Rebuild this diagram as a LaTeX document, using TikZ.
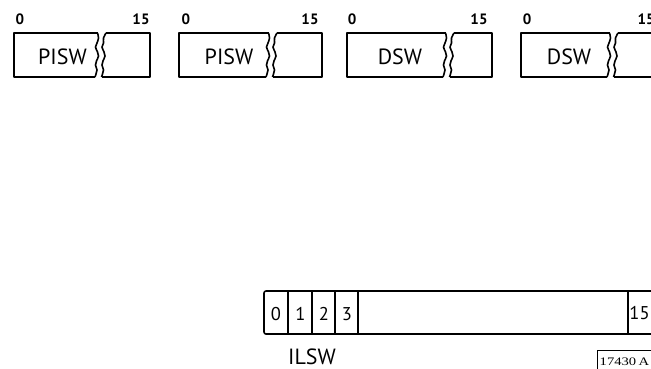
\documentclass[tikz,border=0pt]{standalone}
\usepackage{fontspec}
\setmainfont{PT Sans}
\newfontfamily\sernum{Liberation Serif}
\begin{document}
\begin{tikzpicture}[x=1pt,y=-1pt,
  reg/.style={line width=1.6pt,line join=round},
  regname/.style={inner sep=0pt,anchor=base,text depth=0pt,font=\fontsize{22}{22}\selectfont},
  bitnum/.style={inner sep=0pt,anchor=base,font=\bfseries\fontsize{15}{15}\selectfont},
  cellnum/.style={inner sep=0pt,anchor=base,font=\fontsize{18.5}{18.5}\selectfont},
  figno/.style={inner sep=0pt,anchor=base west,text depth=0pt,font=\sernum\fontsize{11.5}{11.5}\selectfont}]
\useasboundingbox (0,0) rectangle (651,368);
\clip (0,0) rectangle (651,368);
% top row: registers with a break
\foreach \L/\B/\R/\txt/\tx/\za/\zb/\n in {14/97/150/PISW/62.5/20/141/a,
    179/268/322/PISW/229/186/310/b,
    347/445/492/DSW/400/352/479/c,
    521/609/700/DSW/569/527/646/d}{
  \draw[reg] ({\B+0.5},33) -- (\L,33) -- (\L,77) -- ({\B-2},77);
  \draw[reg] plot[smooth,tension=0.6] coordinates {({\B-2},77) ({\B-1},74) ({\B},70) ({\B-1.5},65) ({\B-0.5},61) ({\B+1.5},56) ({\B+0.5},52) ({\B-1.5},47) ({\B},43) ({\B+1.5},38) ({\B+0.5},33)};
  \draw[reg] plot[smooth,tension=0.6] coordinates {({\B+4.5},77) ({\B+5.5},74) ({\B+6.5},70) ({\B+5},65) ({\B+6},61) ({\B+8},56) ({\B+7},52) ({\B+5},47) ({\B+6.5},43) ({\B+6.5},38) ({\B+9},33)};
  \draw[reg] ({\B+9},33) -- (\R,33) -- (\R,77) -- ({\B+4.5},77);
  \node[regname] (name\n) at (\tx,64) {\txt};
  \node[bitnum] (lo\n) at (\za,24) {0};
  \node[bitnum] (hi\n) at (\zb,24) {15};
}
% ILSW register
\draw[reg,rounded corners=2pt] (660,291) -- (264,291) -- (264,334) -- (660,334);
\foreach \x in {288,312,335,358,628}
  \draw[reg] (\x,291) -- (\x,334);
\node[cellnum] (c0) at (276,320) {0};
\node[cellnum] (c1) at (300.5,320) {1};
\node[cellnum] (c2) at (324,320) {2};
\node[cellnum] (c3) at (347,320) {3};
\node[cellnum] (c15) at (639.5,319) {15};
\node[regname] (ilsw) at (312,364) {ILSW};
% figure number
\draw[line width=0.8pt] (660,350) -- (597,350) -- (597,370);
\node[figno] (fig) at (599.5,365) {\scalebox{1.27}[1]{17430\,A}};
\end{tikzpicture}
\end{document}
